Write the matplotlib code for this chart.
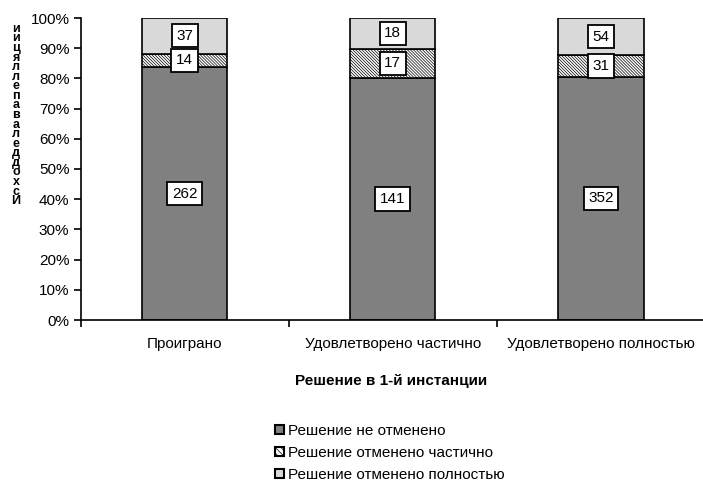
import matplotlib
matplotlib.use("Agg")
import matplotlib.pyplot as plt
import numpy as np
from matplotlib.patches import Patch

plt.rcParams['font.family'] = ['Liberation Sans', 'DejaVu Sans']
plt.rcParams['hatch.linewidth'] = 0.5
plt.rcParams['hatch.color'] = '#444444'

categories = ["Проиграно", "Удовлетворено частично", "Удовлетворено полностью"]
series_names = ["Решение не отменено", "Решение отменено частично", "Решение отменено полностью"]
not_cancelled = [262, 141, 352]
partly_cancelled = [14, 17, 31]
fully_cancelled = [37, 18, 54]
ylabel_text = "Исход дела в апелляции"
xlabel_text = "Решение в 1-й инстанции"

W, H = 703, 483
fig = plt.figure(figsize=(W / 100, H / 100), dpi=100)
ax = fig.add_axes([80.5 / W, (H - 320) / H, (705 - 80.5) / W, 302 / H])

series = [np.array(not_cancelled, float), np.array(partly_cancelled, float), np.array(fully_cancelled, float)]
totals = sum(series)
pcts = [s / totals * 100 for s in series]

colors = ["#808080", "white", "#d9d9d9"]
hatches = [None, "\\" * 11, None]
x = np.arange(len(categories))
bottom = np.zeros(len(categories))
for i in range(3):
    ax.bar(x, pcts[i], bottom=bottom, width=0.41, color=colors[i], edgecolor="black",
           linewidth=1.2, hatch=hatches[i], zorder=2)
    bottom += pcts[i]

bottom = np.zeros(len(categories))
for i in range(3):
    for j in range(len(categories)):
        yc = bottom[j] + pcts[i][j] / 2
        ax.text(x[j], yc, str(int(series[i][j])), ha="center", va="center", fontsize=11,
                color="black", zorder=5,
                bbox=dict(boxstyle="square,pad=0.3", facecolor="white", edgecolor="black", linewidth=1.3))
    bottom += pcts[i]

ax.set_xlim(-0.5, 2.5)
ax.set_ylim(0, 100)
ax.set_yticks(np.arange(0, 101, 10))
ax.set_yticklabels([f"{v}%" for v in range(0, 101, 10)], fontsize=11)
ax.set_xticks(x)
ax.set_xticklabels(categories, fontsize=11)
ax.set_xticks([-0.5, 0.5, 1.5], minor=True)
ax.tick_params(axis="x", which="major", length=0, pad=12)
ax.tick_params(axis="x", which="minor", length=5, width=1.2, direction="out")
ax.tick_params(axis="y", length=5, width=1.2, direction="out", pad=3)
for s in ["top", "right"]:
    ax.spines[s].set_visible(False)
for s in ["left", "bottom"]:
    ax.spines[s].set_linewidth(1.2)

fig.text(391 / W, 1 - 381 / H, xlabel_text, ha="center", va="center", fontsize=11, fontweight="bold")

chars = [c for c in ylabel_text if c != " "][::-1]
fig.text(16 / W, 1 - 115 / H, "\n".join(chars), ha="center", va="center", fontsize=9,
         fontweight="bold", linespacing=0.73)

handles = [Patch(facecolor=colors[i], edgecolor="black", hatch=("\\" * 6 if hatches[i] else None),
                 linewidth=1.5) for i in range(3)]
fig.legend(handles, series_names, loc="upper left", bbox_to_anchor=(275 / W, 1 - 424 / H),
           frameon=False, fontsize=11, handlelength=0.6, handleheight=0.6, handletextpad=0.25,
           labelspacing=0.52, borderaxespad=0, borderpad=0)

fig.savefig("out.png", dpi=100)
